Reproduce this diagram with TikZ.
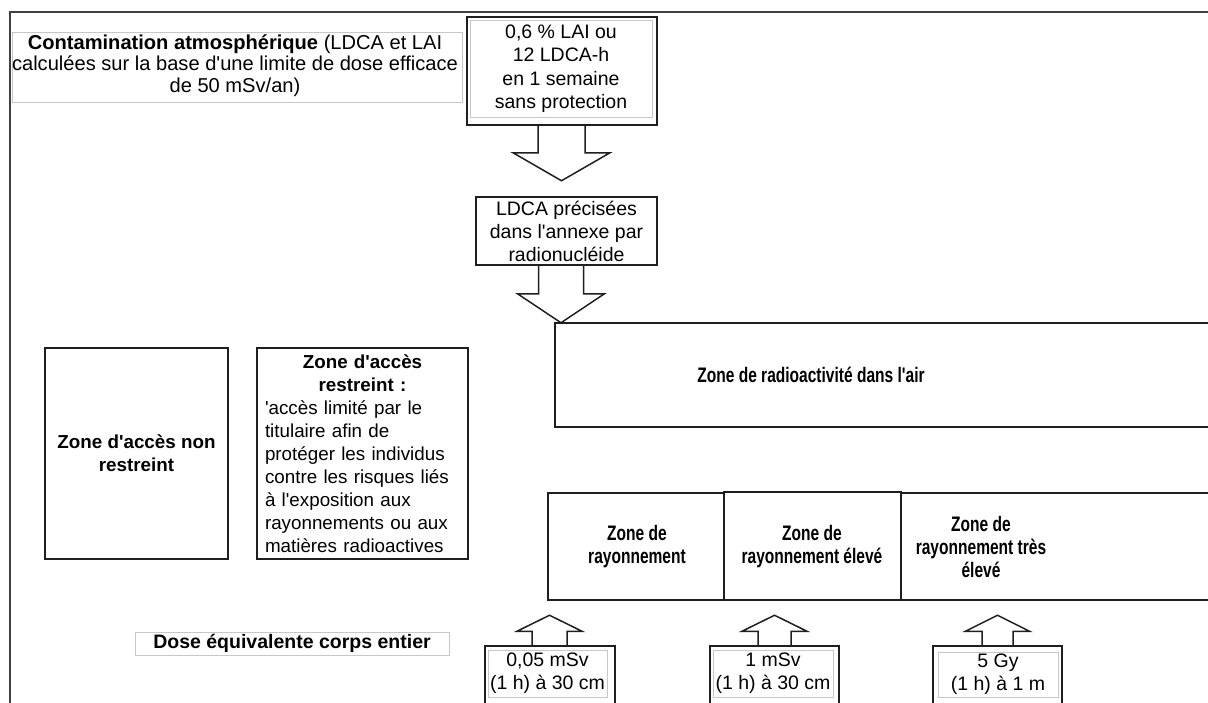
\documentclass[tikz,border=0pt]{standalone}
\usepackage{fontspec}
\setmainfont{Liberation Sans}[Ligatures=TeXOff]
\newfontfamily\narrowsans{Liberation Sans}[FakeStretch=0.74, Ligatures=TeXOff]
\usetikzlibrary{calc}

\tikzset{
  txt/.style={font=\fontsize{19.5pt}{23pt}\selectfont, align=center, inner sep=0pt},
  zonetxt/.style={font=\narrowsans\bfseries\fontsize{21pt}{23pt}\selectfont, align=center, inner sep=0pt},
  box/.style={draw=black!88, line width=1.5pt, rectangle, inner sep=0pt},
  lightbox/.style={draw=black!22, line width=1pt, rectangle, inner sep=0pt},
  arrowline/.style={draw=black!88, line width=1.5pt, line join=miter},
  frameline/.style={draw=black!75, line width=2pt},
  % block arrow: shaft half-width, head half-width, shaft length, head length
  pics/blockarr/.style n args={4}{code={
    \draw[arrowline] (-#1,0) -- (-#1,#3) -- (-#2,#3) -- (0,#3+#4)
      -- (#2,#3) -- (#1,#3) -- (#1,0);
  }}
}

\begin{document}
\begin{tikzpicture}[x=1pt, y=-1pt]
\useasboundingbox (0,0) rectangle (1208,702);
\clip (0,0) rectangle (1208,702);

% frame
\draw[frameline] (10,720) -- (10,12) -- (1230,12);

% heading
\node[lightbox, minimum width=450pt, minimum height=70pt] (headbox) at (237,67) {};
\node[txt, font=\fontsize{20.1pt}{21.7pt}\selectfont] (head) at (235,65.5)
  {{\bfseries Contamination atmosphérique} (LDCA et LAI\\
   calculées sur la base d'une limite de dose efficace\\
   de 50 mSv/an)};

% weekly limit
\node[box, minimum width=190pt, minimum height=108pt] (lai) at (562,71) {};
\node[lightbox, txt, font=\fontsize{19.5pt}{23.5pt}\selectfont,
      minimum width=182pt, minimum height=97pt] (laitext) at (561,68.5)
  {0,6 \% LAI ou\\ 12 LDCA-h\\ en 1 semaine\\ sans protection};

% per radionuclide
\node[box, txt, minimum width=181pt, minimum height=68pt] (ldca) at (566.5,231)
  {LDCA précisées\\ dans l'annexe par\\ radionucléide};

% airborne zone
\node[box, minimum width=680pt, minimum height=104pt] (air) at (895,375) {};
\node[zonetxt] (airtxt) at (811,375) {Zone de radioactivité dans l'air};

% access zones
\node[box, txt, font=\bfseries\fontsize{18.8pt}{23pt}\selectfont,
      minimum width=183pt, minimum height=211pt] (nonr) at (136.5,453.5)
  {Zone d'accès non\\ restreint};
\node[box, txt, minimum width=211pt, minimum height=211pt,
      text width=195pt, align=left, font=\fontsize{18.8pt}{23pt}\selectfont] (restr) at (362.5,453.5)
  {{\centering\bfseries Zone d'accès\\ restreint :\par}%
   'accès limité par le\\ titulaire afin de\\ protéger les individus\\
   contre les risques liés\\ à l'exposition aux\\ rayonnements ou aux\\
   matières radioactives};

% radiation zones
\node[box, minimum width=176pt, minimum height=107pt] (ray1) at (636,546.5) {};
\node[box, minimum width=177pt, minimum height=108pt] (ray2) at (812.5,546) {};
\node[box, minimum width=330pt, minimum height=107pt] (ray3) at (1066,546.5) {};
\node[zonetxt] (ray1txt) at (637,546.5) {Zone de\\ rayonnement};
\node[zonetxt] (ray2txt) at (812,546.5) {Zone de\\ rayonnement élevé};
\node[zonetxt] (ray3txt) at (981,546.5) {Zone de\\ rayonnement très\\ élevé};

% dose thresholds
\node[lightbox, txt, font=\bfseries\fontsize{19.5pt}{23pt}\selectfont,
      minimum width=314pt, minimum height=23pt] (dose) at (292,643.5)
  {Dose équivalente corps entier};

\node[box, minimum width=130pt, minimum height=74pt] (b1) at (550,683) {};
\node[box, minimum width=129pt, minimum height=74pt] (b2) at (774.5,683) {};
\node[box, minimum width=129pt, minimum height=74pt] (b3) at (997.5,683) {};
\node[lightbox, txt, minimum width=119pt, minimum height=47pt] (b1txt) at (547.5,673.5)
  {0,05 mSv\\ (1 h) à 30 cm};
\node[lightbox, txt, minimum width=120pt, minimum height=47pt] (b2txt) at (773,673.5)
  {1 mSv\\ (1 h) à 30 cm};
\node[lightbox, txt, minimum width=120pt, minimum height=45pt] (b3txt) at (998,674.5)
  {5 Gy\\ (1 h) à 1 m};

% block arrows
\pic at ($(lai.south)+(-0.5,0)$) {blockarr={23.5}{48.5}{27}{28}};
\pic at ($(ldca.south)+(-5.5,0)$) {blockarr={22.5}{43.5}{28}{29}};
\pic at ($(b1.north)+(-0.5,0)$) {blockarr={17.5}{32.5}{-14}{-16}};
\pic at (b2.north) {blockarr={16.5}{32.5}{-14}{-16}};
\pic at (b3.north) {blockarr={15.5}{32}{-14}{-16}};
\end{tikzpicture}
\end{document}
